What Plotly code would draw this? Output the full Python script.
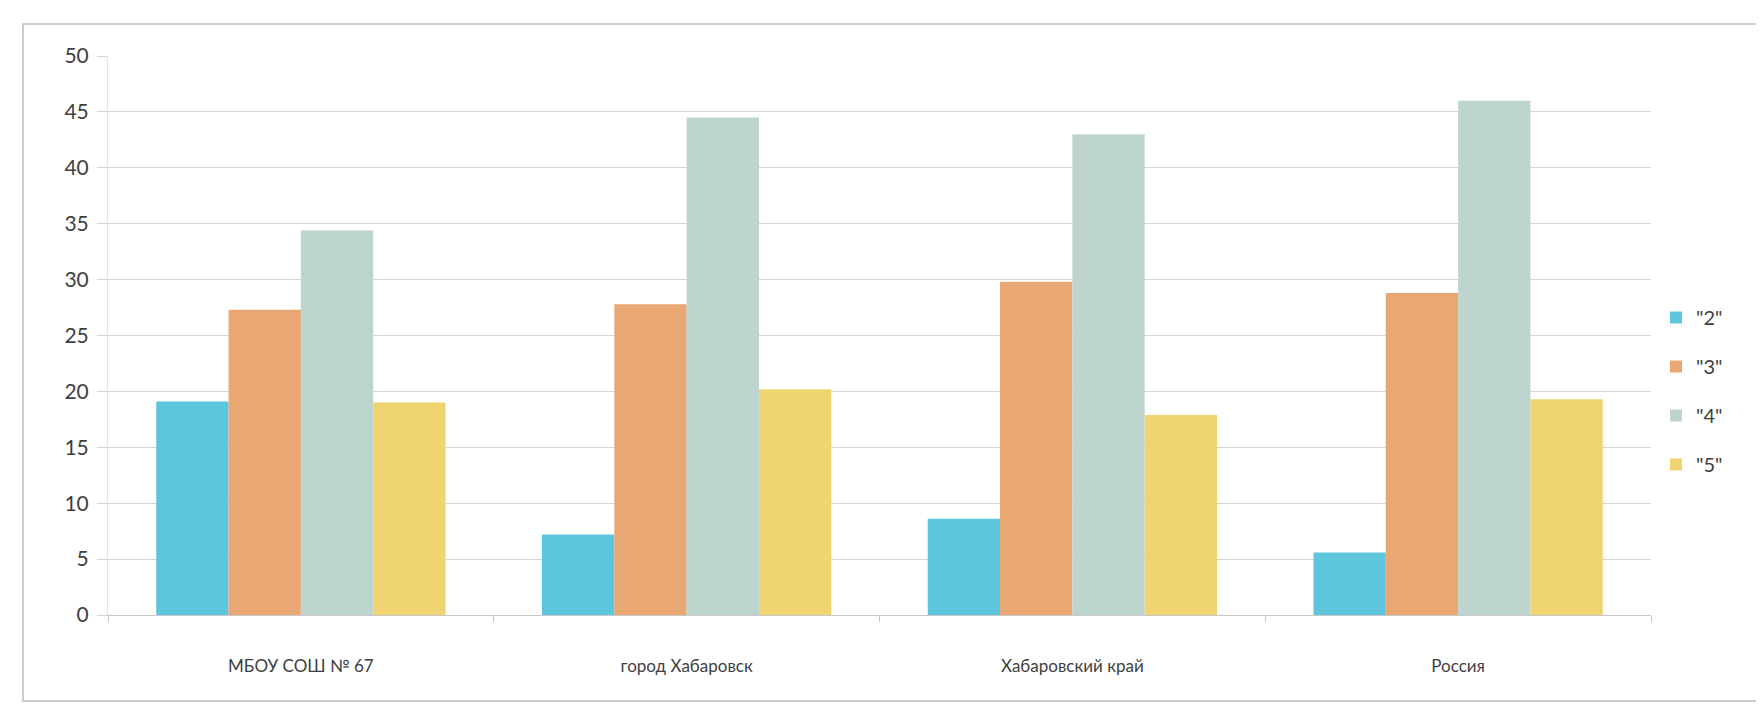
import plotly.graph_objects as go

categories = ["МБОУ СОШ № 67", "город Хабаровск", "Хабаровский край", "Россия"]
series_names = ['"2"', '"3"', '"4"', '"5"']
grade2 = [19.1, 7.2, 8.6, 5.6]
grade3 = [27.3, 27.8, 29.8, 28.8]
grade4 = [34.4, 44.5, 43.0, 46.0]
grade5 = [19.0, 20.2, 17.9, 19.3]
colors = ["#5EC6DC", "#E9A773", "#BDD4CF", "#F0D472"]
y_ticks = [0, 5, 10, 15, 20, 25, 30, 35, 40, 45, 50]

W, H = 1764, 726
L, R, T, B = 100, 121, 48, 119
pw, ph = W - L - R, H - T - B

fig = go.Figure()
for i, (name, vals) in enumerate(zip(series_names, [grade2, grade3, grade4, grade5])):
    fig.add_trace(go.Bar(
        x=categories, y=vals, name=name,
        marker=dict(color=colors[i], line=dict(width=0)),
        legendgroup=name,
    ))

fig.update_layout(
    width=W, height=H,
    margin=dict(l=L, r=R, t=T, b=B),
    paper_bgcolor="white", plot_bgcolor="white",
    barmode="group", bargap=0.25, bargroupgap=0,
    font=dict(family="Lato, 'Open Sans', sans-serif", color="#404040", size=16),
    legend=dict(
        x=(1648 - L) / pw, y=(H - B - 290) / ph, xanchor="left", yanchor="top",
        font=dict(size=20, color="#404040"),
        tracegroupgap=20, itemwidth=30, traceorder="grouped",
        bgcolor="rgba(0,0,0,0)",
    ),
    showlegend=True,
)
fig.update_xaxes(
    showgrid=False, showline=True, linecolor="#c8c8c8", linewidth=1,
    ticks="outside", tickson="boundaries", ticklen=6, tickcolor="#c8c8c8",
    ticklabelstandoff=36, tickfont=dict(size=17, color="#404040"),
)
fig.update_yaxes(
    range=[0, 50], tickvals=y_ticks, showgrid=True, gridcolor="#d6d6d6", gridwidth=1,
    zeroline=False, showline=True, linecolor="#e4e4e4",
    ticks="outside", ticklen=10, tickcolor="#d6d6d6",
    ticklabelstandoff=4, tickfont=dict(size=21, color="#404040"),
)
# outer chart frame
fig.add_shape(
    type="rect", xref="paper", yref="paper",
    x0=(15 - L) / pw, x1=(1756 - L) / pw,
    y0=(H - B - 693) / ph, y1=(H - B - 16) / ph,
    line=dict(color="#bdbdbd", width=1.5), fillcolor="rgba(0,0,0,0)", layer="below",
)

fig.write_html("out.html")
